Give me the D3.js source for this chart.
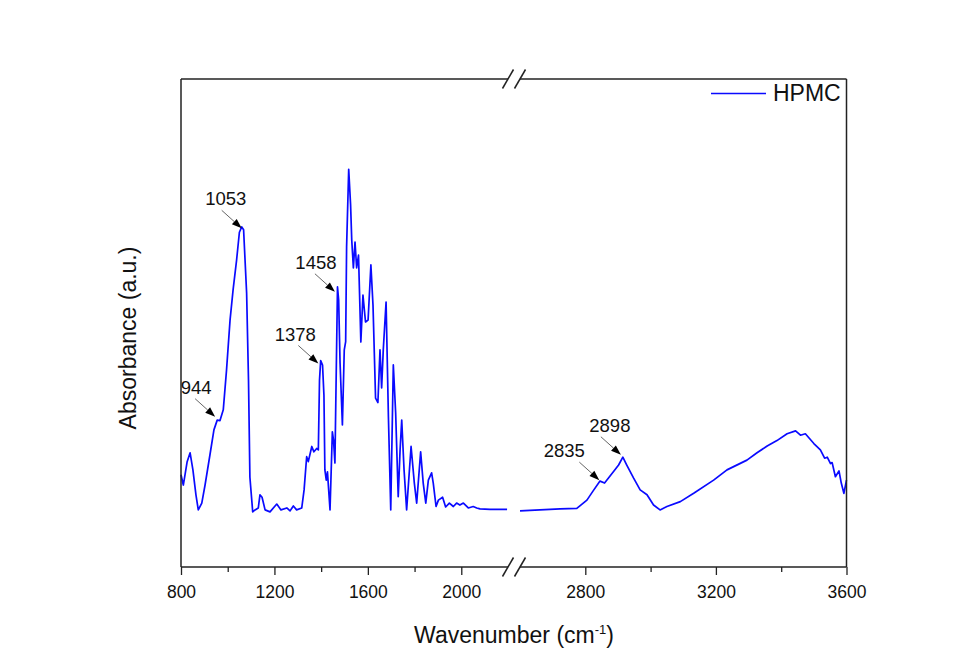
<!DOCTYPE html>
<html>
<head>
<meta charset="utf-8">
<script src="https://cdn.jsdelivr.net/npm/d3@7"></script>
<style>
body { margin: 0; background: #fff; }
text { font-family: Arial, "Liberation Sans", sans-serif; }
</style>
</head>
<body>
<div id="chart"></div>
<script>
// spectrum, low wavenumber part (800-2200)
var lowWn = [800, 810, 826, 839, 851, 864, 874, 889, 903, 924, 941, 955, 967, 981, 995, 1010, 1023, 1038, 1050, 1060,
	1068, 1081, 1089, 1095, 1107, 1117, 1131, 1138, 1147, 1160, 1181, 1210, 1228, 1253, 1267, 1281, 1295, 1317, 1327, 1338,
	1345, 1360, 1369, 1381, 1388, 1393, 1398, 1406, 1412, 1416, 1422, 1427, 1438, 1448, 1453, 1459, 1470, 1475, 1481, 1491,
	1499, 1505, 1509, 1518, 1526, 1531, 1538, 1545, 1552, 1560, 1570, 1579, 1590, 1601, 1613, 1622, 1633, 1643, 1652, 1659,
	1666, 1678, 1688, 1698, 1709, 1719, 1730, 1738, 1745, 1755, 1766, 1785, 1799, 1809, 1826, 1837, 1848, 1859, 1873, 1880,
	1892, 1902, 1920, 1933, 1949, 1966, 1980, 1994, 2009, 2030, 2051, 2066, 2080, 2123, 2196];
var lowAbs = [0.189, 0.168, 0.215, 0.234, 0.199, 0.148, 0.117, 0.131, 0.168, 0.230, 0.281, 0.301, 0.300, 0.322, 0.404, 0.506, 0.568, 0.629, 0.686, 0.697,
	0.691, 0.561, 0.383, 0.184, 0.113, 0.117, 0.121, 0.148, 0.143, 0.117, 0.113, 0.129, 0.117, 0.121, 0.115, 0.125, 0.117, 0.121, 0.158, 0.226,
	0.216, 0.247, 0.236, 0.243, 0.240, 0.383, 0.423, 0.414, 0.352, 0.199, 0.178, 0.195, 0.117, 0.277, 0.260, 0.213, 0.574, 0.547, 0.418, 0.291,
	0.445, 0.462, 0.656, 0.815, 0.743, 0.670, 0.613, 0.666, 0.613, 0.639, 0.461, 0.557, 0.502, 0.506, 0.619, 0.537, 0.346, 0.337, 0.445, 0.367,
	0.445, 0.543, 0.308, 0.117, 0.414, 0.316, 0.144, 0.240, 0.301, 0.199, 0.117, 0.247, 0.172, 0.131, 0.236, 0.172, 0.131, 0.178, 0.193, 0.172,
	0.124, 0.137, 0.143, 0.123, 0.131, 0.124, 0.131, 0.127, 0.131, 0.121, 0.124, 0.121, 0.119, 0.118, 0.118];

// high wavenumber part (2600-3600)
var highWn = [2600, 2661, 2723, 2774, 2805, 2824, 2845, 2859, 2886, 2902, 2915, 2927, 2948, 2968, 2989, 3009, 3029, 3050, 3091, 3132,
	3193, 3234, 3295, 3326, 3357, 3387, 3418, 3444, 3459, 3474, 3500, 3520, 3533, 3541, 3551, 3556, 3566, 3577, 3584, 3592, 3600];
var highAbs = [0.115, 0.117, 0.119, 0.120, 0.137, 0.156, 0.176, 0.172, 0.195, 0.209, 0.225, 0.209, 0.182, 0.158, 0.148, 0.127, 0.117, 0.124, 0.134, 0.151,
	0.178, 0.199, 0.219, 0.234, 0.248, 0.259, 0.273, 0.279, 0.270, 0.273, 0.253, 0.240, 0.223, 0.225, 0.212, 0.214, 0.185, 0.197, 0.172, 0.151, 0.178];

// peak labels and where their arrows point
var peakLabels = ["944", "1053", "1378", "1458", "2835", "2898"];
var peakWn = [946, 1060, 1388, 1459, 2843, 2909];
var peakAbs = [0.308, 0.694, 0.417, 0.564, 0.178, 0.230];

var lowTicks = [800, 1200, 1600, 2000];
var lowMinor = [1000, 1400, 1800];
var highTicks = [2800, 3200, 3600];
var highMinor = [3000, 3400];

var seriesName = "HPMC";

function init() {

	var width = 970;
	var height = 672;
	var left = 181, right = 846.5, top = 79, bottom = 567;
	var breakL = 508, breakR = 520;
	var blue = "#0a0aff";

	var xLow = d3.scaleLinear().domain([800, 2200]).range([left, breakL]);
	var xHigh = d3.scaleLinear().domain([2600, 3600]).range([breakR, right]);
	var y = d3.scaleLinear().domain([0, 1]).range([bottom, top]);

	function xAny(w) {
		return w <= 2200 ? xLow(w) : xHigh(w);
	}

	var svg = d3.select("#chart")
		.append("svg")
		.attr("width", width)
		.attr("height", height);

	svg.append("rect")
		.attr("width", width)
		.attr("height", height)
		.attr("fill", "#fff");

	// curves
	var lowData = lowWn.map(function(w, i) { return [w, lowAbs[i]]; });
	var highData = highWn.map(function(w, i) { return [w, highAbs[i]]; });

	var lineLow = d3.line()
		.x(function(d) { return xLow(d[0]); })
		.y(function(d) { return y(d[1]); });
	var lineHigh = d3.line()
		.x(function(d) { return xHigh(d[0]); })
		.y(function(d) { return y(d[1]); });

	svg.append("path")
		.datum(lowData)
		.attr("d", lineLow)
		.attr("fill", "none")
		.attr("stroke", blue)
		.attr("stroke-width", 1.7)
		.attr("stroke-linejoin", "round");

	svg.append("path")
		.datum(highData)
		.attr("d", lineHigh)
		.attr("fill", "none")
		.attr("stroke", blue)
		.attr("stroke-width", 1.7)
		.attr("stroke-linejoin", "round");

	// frame with the break
	var frame = svg.append("g")
		.attr("stroke", "#222")
		.attr("stroke-width", 1.5)
		.attr("fill", "none");

	frame.append("line").attr("x1", left).attr("x2", left).attr("y1", top).attr("y2", bottom);
	frame.append("line").attr("x1", right).attr("x2", right).attr("y1", top).attr("y2", bottom);
	[top, bottom].forEach(function(yy) {
		frame.append("line").attr("x1", left).attr("x2", breakL).attr("y1", yy).attr("y2", yy);
		frame.append("line").attr("x1", breakR).attr("x2", right).attr("y1", yy).attr("y2", yy);
		[breakL, breakR].forEach(function(xx) {
			frame.append("line")
				.attr("x1", xx - 5.5).attr("y1", yy + 9.5)
				.attr("x2", xx + 5.5).attr("y2", yy - 9.5);
		});
	});

	// bottom axes
	function drawAxis(scale, major, minor) {
		var g = svg.append("g")
			.attr("transform", "translate(0," + bottom + ")")
			.call(d3.axisBottom(scale).tickValues(major).tickSize(8).tickPadding(11).tickFormat(d3.format("d")));
		g.select(".domain").remove();
		g.selectAll("line").attr("stroke", "#222").attr("stroke-width", 1.3);
		g.selectAll("text")
			.attr("fill", "#111")
			.style("font-size", "17.5px")
			.style("font-family", "Arial, 'Liberation Sans', sans-serif");

		var m = svg.append("g")
			.attr("transform", "translate(0," + bottom + ")")
			.call(d3.axisBottom(scale).tickValues(minor).tickSize(5).tickFormat(""));
		m.select(".domain").remove();
		m.selectAll("line").attr("stroke", "#222").attr("stroke-width", 1.3);
	}
	drawAxis(xLow, lowTicks, lowMinor);
	drawAxis(xHigh, highTicks, highMinor);

	// axis titles
	var xt = svg.append("text")
		.attr("x", 514)
		.attr("y", 643)
		.attr("text-anchor", "middle")
		.attr("fill", "#111")
		.style("font-size", "23px");
	xt.append("tspan").text("Wavenumber (cm");
	xt.append("tspan").attr("dy", -9).style("font-size", "13px").text("-1");
	xt.append("tspan").attr("dy", 9).text(")");

	svg.append("text")
		.attr("transform", "translate(136,338) rotate(-90)")
		.attr("text-anchor", "middle")
		.attr("fill", "#111")
		.style("font-size", "23px")
		.text("Absorbance (a.u.)");

	// legend
	svg.append("line")
		.attr("x1", 711).attr("x2", 766)
		.attr("y1", 93.5).attr("y2", 93.5)
		.attr("stroke", blue)
		.attr("stroke-width", 1.7);
	svg.append("text")
		.attr("x", 773)
		.attr("y", 101)
		.attr("fill", "#111")
		.style("font-size", "23px")
		.text(seriesName);

	// peak annotations
	var labelDx = [1, 4, -3, 1, -15, 9];
	var ann = svg.selectAll(".ann")
		.data(peakLabels)
		.enter()
		.append("g")
		.attr("class", "ann");

	ann.each(function(label, i) {
		var g = d3.select(this);
		var tx = xAny(peakWn[i]);
		var ty = y(peakAbs[i]);
		var sx = tx - 20, sy = ty - 18;
		var len = Math.sqrt(20 * 20 + 18 * 18);
		var ux = 20 / len, uy = 18 / len;
		var hl = 10, hw = 3.6;
		var bx = tx - ux * hl, by = ty - uy * hl;

		g.append("line")
			.attr("x1", sx).attr("y1", sy)
			.attr("x2", bx).attr("y2", by)
			.attr("stroke", "#666")
			.attr("stroke-width", 1);

		g.append("path")
			.attr("d", "M" + tx + "," + ty +
				"L" + (bx - uy * hw) + "," + (by + ux * hw) +
				"L" + (bx + uy * hw) + "," + (by - ux * hw) + "Z")
			.attr("fill", "#000");

		g.append("text")
			.attr("x", sx + labelDx[i])
			.attr("y", sy - 5)
			.attr("text-anchor", "middle")
			.attr("fill", "#111")
			.style("font-size", "18.5px")
			.text(label);
	});
}

window.onload = init;
</script>
</body>
</html>
